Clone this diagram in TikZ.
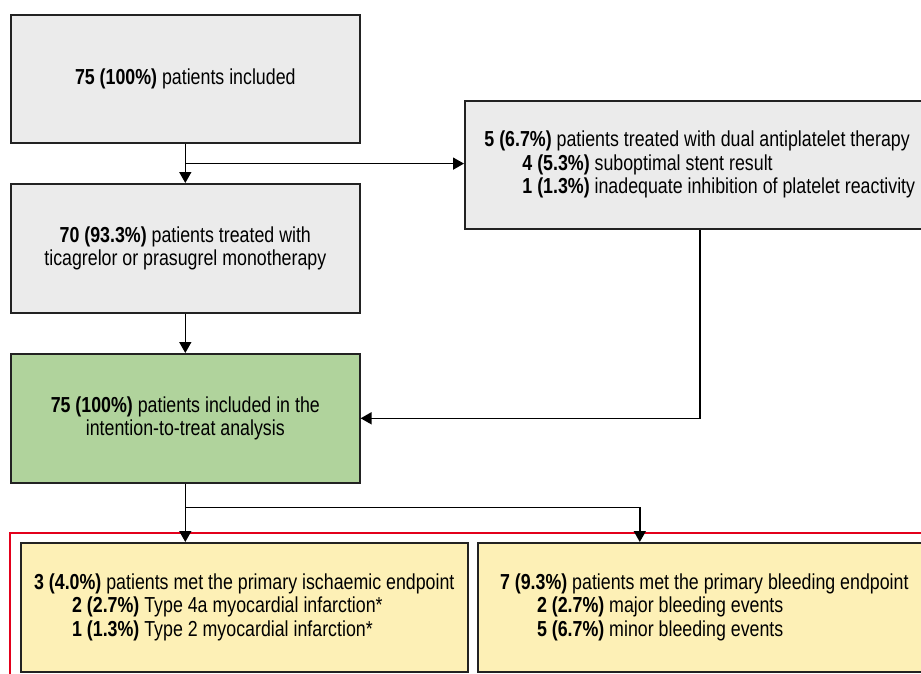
\documentclass[tikz,border=0pt]{standalone}
\usepackage{fontspec}
\setmainfont[FakeStretch=0.82]{Liberation Sans}
\usetikzlibrary{arrows.meta,calc}
\definecolor{boxgrey}{HTML}{EBEBEB}
\definecolor{boxgreen}{HTML}{B0D39C}
\definecolor{boxyellow}{HTML}{FDF0B6}
\definecolor{framered}{HTML}{E3001B}
\definecolor{edge}{HTML}{222222}
\begin{document}
\begin{tikzpicture}[x=1pt,y=-1pt,
  flowbox/.style={draw=edge, line width=1.6pt, anchor=north west, inner sep=0pt,
    font=\fontsize{21.7}{23.5}\selectfont, align=center},
  greybox/.style={flowbox, fill=boxgrey},
  greenbox/.style={flowbox, fill=boxgreen},
  yellowbox/.style={flowbox, fill=boxyellow, align=left},
  arr/.style={line width=1.6pt, draw=black, -{Triangle[width=12pt,length=11pt]}}]
\useasboundingbox (0,0) rectangle (921,674);
\clip (0,0) rectangle (921,674);
\fill[white] (0,0) rectangle (921,674);

\node[greybox, minimum width=349pt, minimum height=128pt] (b1) at (10,14)
  {\textbf{75 (100\%)} patients included};
\node[greybox, minimum width=349pt, minimum height=129pt] (b2) at (10,183)
  {\textbf{70 (93.3\%)} patients treated with\\ticagrelor or prasugrel monotherapy};
\node[greybox, align=left, minimum width=470pt, minimum height=128pt] (b3) at (464,100)
  {\textbf{5 (6.7\%)} patients treated with dual antiplatelet therapy\\
   \hspace*{38pt}\textbf{4 (5.3\%)} suboptimal stent result\\
   \hspace*{38pt}\textbf{1 (1.3\%)} inadequate inhibition of platelet reactivity};
\node[greenbox, minimum width=349pt, minimum height=129pt] (g) at (10,353)
  {\textbf{75 (100\%)} patients included in the\\intention-to-treat analysis};

\draw[framered, line width=1.8pt] (10,533) rectangle (950,700);

\node[yellowbox, minimum width=447pt, minimum height=129pt] (y1) at (20,542)
  {\textbf{3 (4.0\%)} patients met the primary ischaemic endpoint\\
   \hspace*{38pt}\textbf{2 (2.7\%)} Type 4a myocardial infarction*\\
   \hspace*{38pt}\textbf{1 (1.3\%)} Type 2 myocardial infarction*};
\node[yellowbox, minimum width=453pt, minimum height=129pt] (y2) at (477,542)
  {\textbf{7 (9.3\%)} patients met the primary bleeding endpoint\\
   \hspace*{37pt}\textbf{2 (2.7\%)} major bleeding events\\
   \hspace*{37pt}\textbf{5 (6.7\%)} minor bleeding events};

\coordinate (j1) at ($(b1.south)+(0,20)$);
\draw[arr] (b1.south) -- (b2.north);
\draw[arr] (j1) -- (j1 -| b3.west);
\draw[arr] (b2.south) -- (g.north);
\draw[arr] (b3.south) |- (g.east);
\coordinate (j2) at ($(g.south)+(0,24)$);
\coordinate (t2) at ($(y2.north)+(-64.5,0)$);
\draw[arr] (g.south) -- (y1.north -| g.south);
\draw[arr] (j2) -| (t2);
\end{tikzpicture}
\end{document}
